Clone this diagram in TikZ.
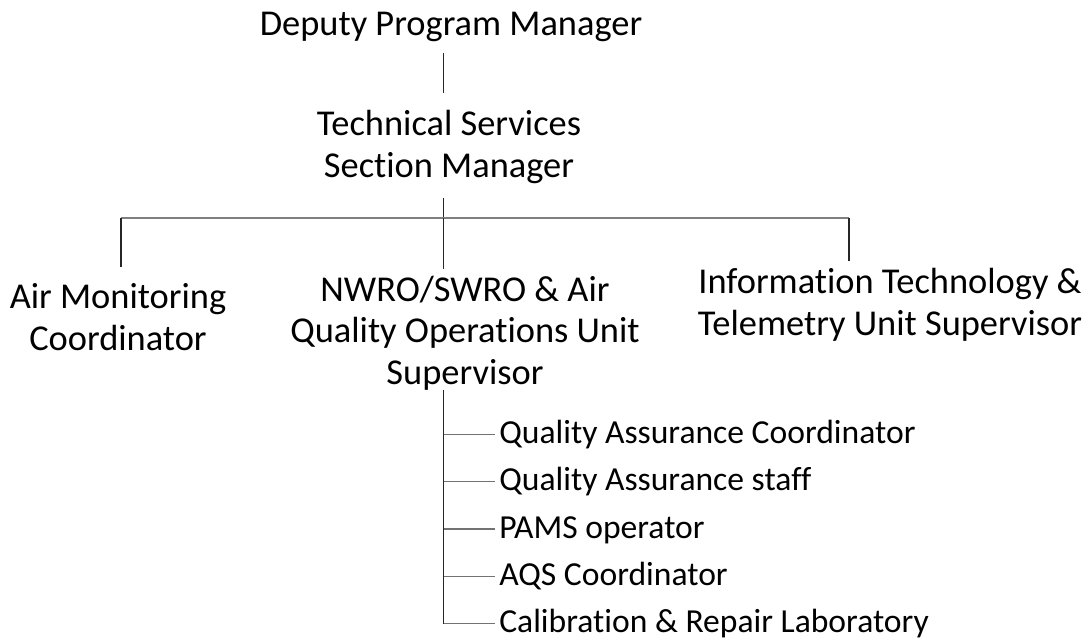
\documentclass[tikz,border=0pt]{standalone}
\usepackage{fontspec}
\setmainfont[Ligatures=NoCommon]{Carlito}
\usetikzlibrary{positioning}
\begin{document}
\begin{tikzpicture}[x=0.75pt,y=-0.75pt]
\tikzstyle{every node}=[inner sep=0pt,font=\fontsize{27.3}{31.1}\selectfont,align=center,anchor=base]
\tikzstyle{link}=[draw=black!85,line width=0.8pt]
\tikzstyle{bar}=[draw=black!50,line width=1.5pt]
\tikzstyle{tick}=[draw=black!55,line width=0.9pt,shorten >=3pt]
\tikzstyle{item}=[anchor=base west,font=\fontsize{25.2}{30}\selectfont,text height=18pt,text depth=4.5pt]
\useasboundingbox (0,0) rectangle (1088,640);
% top of the chart
\node (dpm) at (451,35) {Deputy Program Manager};
\node (tssm) at (449,177) {Technical Services\\Section Manager};
% units
\node (amc) at (118,350) {Air Monitoring\\Coordinator};
\node (nwro) at (465,384) {NWRO/SWRO \& Air\\Quality Operations Unit\\Supervisor};
\node (itt) at (890,335) {Information Technology \&\\Telemetry Unit Supervisor};
\coordinate (bus) at (443.5,218);
\coordinate (lbus) at (121,218);
\coordinate (rbus) at (849,218);
\draw[link,shorten <=8.8pt,shorten >=12.4pt] (dpm.south -| bus) -- (tssm.north -| bus);
\draw[link,shorten <=11pt] (tssm.south -| bus) -- (bus);
\draw[bar] (lbus) -- (rbus);
\draw[link,shorten >=12.4pt] (lbus) -- (lbus |- amc.north);
\draw[link,shorten >=5pt] (bus) -- (bus |- nwro.north);
\draw[link,shorten >=5.6pt] (rbus) -- (rbus |- itt.north);
% staff under the supervisor
\foreach \txt [count=\i] in {Quality Assurance Coordinator,Quality Assurance staff,PAMS operator,AQS Coordinator,Calibration \& Repair Laboratory}
{
  \node[item] (item\i) at (499,{443.5+47.25*(\i-1)}) {\txt};
  \draw[tick] (bus |- item\i.west) -- (item\i.west);
}
\draw[link] (nwro.south -| bus) -- (bus |- item5.west);
\end{tikzpicture}
\end{document}
